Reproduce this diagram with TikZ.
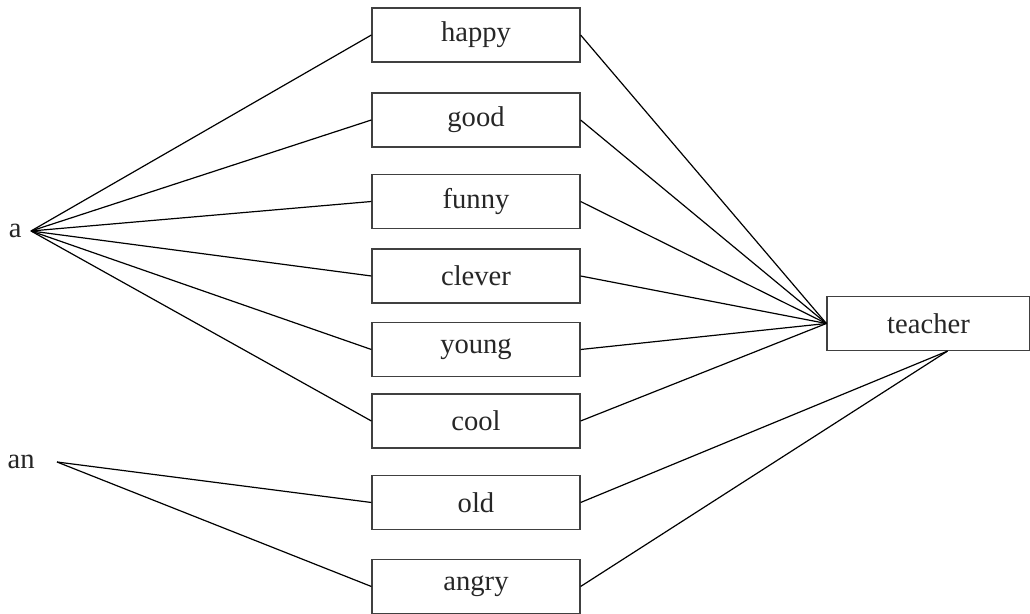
\documentclass[tikz,border=0pt]{standalone}
\usepackage{fontspec}
\setmainfont{Liberation Serif}
\usepackage{tikz}
\usetikzlibrary{positioning}

\begin{document}
\begin{tikzpicture}[
    x=0.5pt, y=-0.5pt,
    word/.style={rectangle, draw=black!75, line width=0.6pt, minimum width=104pt, minimum height=27pt, inner sep=0pt, align=center, font=\fontsize{14.3}{17}\selectfont, text=black!85},
    article/.style={inner ysep=0pt, font=\fontsize{14.3}{17}\selectfont, text=black!85},
    link/.style={line width=0.6pt, black}
]
\useasboundingbox (0,0) rectangle (1030,614);

% Articles
\node[article, anchor=east, inner xsep=4.5pt] (a) at (31,231) {a};
\node[article, anchor=east, inner xsep=11pt] (an) at (57,462) {an};

% Adjectives
\node[word] (happy) at (476,35) {happy};
\node[word] (good) at (476,120) {good};
\node[word] (funny) at (476,201.5) {funny};
\node[word] (clever) at (476,276) {clever};
\node[word] (young) at (476,349.5) {young};
\node[word] (cool) at (476,421) {cool};
\node[word] (old) at (476,502.5) {old};
\node[word] (angry) at (476,586.5) {angry};

% Noun
\node[word, minimum width=101.5pt] (teacher) at (928.5,323.5) {teacher};
\coordinate (tfoot) at ([xshift=9.5pt]teacher.south);

% Links
\foreach \w in {happy, good, funny, clever, young, cool} {
    \draw[link] (a.east) -- (\w.west);
    \draw[link] (\w.east) -- (teacher.west);
}
\foreach \w in {old, angry} {
    \draw[link] (an.east) -- (\w.west);
    \draw[link] (\w.east) -- (tfoot);
}

\end{tikzpicture}
\end{document}
